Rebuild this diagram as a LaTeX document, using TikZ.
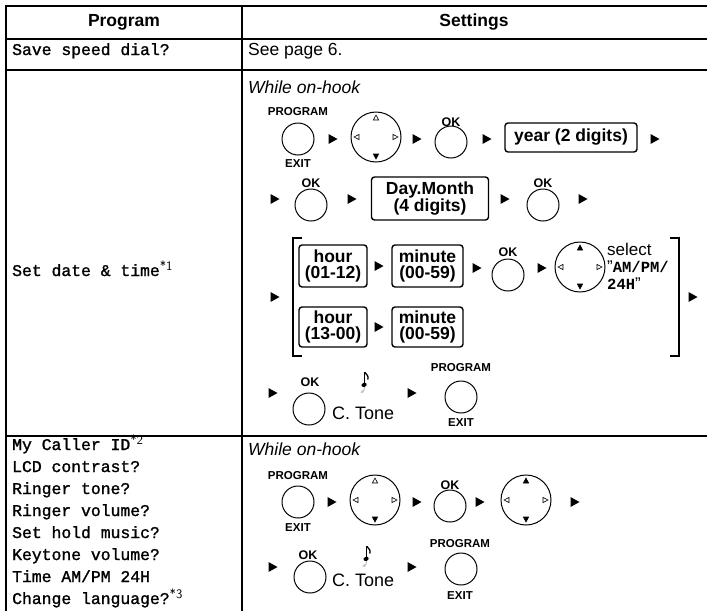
\documentclass[tikz,border=0pt]{standalone}
\usepackage{fontspec}
\setmainfont{Liberation Sans}
\setmonofont{Liberation Mono}
\newfontfamily\monomed{Liberation Mono}[FakeBold=1.3]
\usetikzlibrary{arrows.meta}
\newcommand\fnmark[1]{\raisebox{5.5pt}{\sffamily\mdseries\fontsize{13}{13}\selectfont *#1}}
\newcommand\arr[1]{\fill (#1) ++(-4.5,-5) -- ++(9,5) -- ++(-9,5) -- cycle;}
\newcommand\dialmarks[3]{%
 \draw[#2] ([yshift=-3pt]#1.north) -- ++(-2.6,5) -- ++(5.2,0) -- cycle;
 \draw[#3] ([yshift=3pt]#1.south) -- ++(-2.6,-5) -- ++(5.2,0) -- cycle;
 \draw[mko] ([xshift=3pt]#1.west) -- ++(5,-2.6) -- ++(0,5.2) -- cycle;
 \draw[mko] ([xshift=-3pt]#1.east) -- ++(-5,-2.6) -- ++(0,5.2) -- cycle;}
\newcommand\notesym[2]{%
 \begin{scope}[shift={(#1,#2)}]
  \draw[gray!55,line width=0.9pt,-{Stealth[length=3pt,width=3pt]}] (0.5,7) .. controls (0,11) .. (-3.5,12.5);
  \fill[rotate=20] (-1.6,4.6) ellipse (2.7 and 2);
  \draw[line width=0.9pt] (0.9,4.5) -- (0.9,-8);
  \draw[line width=1.3pt] (0.9,-7.6) .. controls (2.5,-5) and (5,-4.5) .. (3.8,-0.5);
 \end{scope}}
\begin{document}
\begin{tikzpicture}[x=1pt,y=-1pt,
  tbl/.style={line width=2pt},
  btn/.style={circle,draw,line width=1pt,minimum size=32pt,inner sep=0pt,outer sep=0pt},
  dialc/.style={circle,draw,line width=1pt,minimum size=50pt,inner sep=0pt,outer sep=0pt},
  lbl/.style={font=\fontsize{11.5}{12}\selectfont\bfseries,inner sep=0pt},
  oklbl/.style={font=\fontsize{12.5}{13}\selectfont\bfseries,inner sep=0pt},
  kbox/.style={draw,rounded corners=3pt,line width=1.4pt,font=\fontsize{17.5}{16.5}\selectfont\bfseries,align=center,inner sep=0pt},
  hdr/.style={font=\fontsize{17.5}{20}\selectfont\bfseries,inner sep=0pt},
  txt/.style={font=\fontsize{17.5}{20}\selectfont,inner sep=0pt,anchor=base west},
  itx/.style={font=\fontsize{17.5}{20}\selectfont\itshape,inner sep=0pt,anchor=base west},
  mono/.style={font=\fontsize{16.4}{22}\selectfont\monomed,inner sep=0pt,anchor=base west},
  brk/.style={line width=1.2pt},
  mko/.style={draw,line width=0.6pt,fill=white},
  mkf/.style={draw,line width=0.6pt,fill=black}]
\useasboundingbox (0,0) rectangle (707,611);
% table
\draw[tbl] (6,6) -- (707,6);
\draw[tbl] (6,39) -- (707,39);
\draw[tbl] (6,70) -- (707,70);
\draw[tbl] (6,436) -- (707,436);
\draw[tbl] (6,5) -- (6,611);
\draw[tbl] (242,5) -- (242,611);
\node[hdr] (hp) at (124,22.5) {Program};
\node[hdr] (hs) at (474,22.5) {Settings};
% row 1
\node[mono] (p1) at (12,55) {Save speed dial?};
\node[txt] (s1) at (248,55) {See page 6.};
% row 2
\node[mono] (p2) at (12,276) {Set date \& time\fnmark{1}};
\node[itx] (w1) at (248,93) {While on-hook};
% line A
\node[btn] (b1) at (298,139) {};
\node[lbl] (b1p) at (298,112) {PROGRAM};
\node[lbl] (b1e) at (298,164) {EXIT};
\arr{333,139}
\node[dialc] (d1) at (376,137) {};
\dialmarks{d1}{mko}{mkf}
\arr{417,139}
\node[btn] (b2) at (451,142) {};
\node[oklbl] (b2o) at (451,122) {OK};
\arr{487,139}
\node[kbox,minimum width=132pt,minimum height=29pt] (k1) at (571,137.5) {year (2 digits)};
\arr{655,139}
% line B
\arr{275,199}
\node[btn] (b3) at (311,205) {};
\node[oklbl] (b3o) at (311,183) {OK};
\arr{352,199}
\node[kbox,minimum width=117pt,minimum height=43pt] (k2) at (430,198.5) {Day.Month\\(4 digits)};
\arr{505,199}
\node[btn] (b4) at (543,205) {};
\node[oklbl] (b4o) at (543,183) {OK};
\arr{583,199}
% line C
\arr{275,297}
\draw[brk] (302,238) -- (293,238) -- (293,356) -- (302,356);
\draw[brk] (670,238) -- (679,238) -- (679,356) -- (670,356);
\node[kbox,minimum width=68pt,minimum height=42pt] (k3) at (333,266) {hour\\(01-12)};
\arr{379,266}
\node[kbox,minimum width=71pt,minimum height=42pt] (k4) at (427.5,266) {minute\\(00-59)};
\arr{477,268}
\node[btn] (b5) at (508,275) {};
\node[oklbl] (b5o) at (508,252) {OK};
\arr{542,268}
\node[dialc] (d2) at (580,267) {};
\dialmarks{d2}{mkf}{mkf}
\node[font=\fontsize{17}{17}\selectfont,align=left,inner sep=0pt,anchor=west] (sel) at (607,266)
  {select\\"{\ttfamily\bfseries\fontsize{15.5}{17}\selectfont AM/PM/}\\{\ttfamily\bfseries\fontsize{15.5}{17}\selectfont 24H}"};
\node[kbox,minimum width=68pt,minimum height=40pt] (k5) at (333,327) {hour\\(13-00)};
\arr{379,327}
\node[kbox,minimum width=71pt,minimum height=40pt] (k6) at (427.5,327) {minute\\(00-59)};
\arr{693,297}
% line D
\arr{273,393}
\node[btn] (b6) at (309,409) {};
\node[oklbl] (b6o) at (310,382) {OK};
\notesym{364}{380}
\node[font=\fontsize{18}{20}\selectfont,inner sep=0pt,anchor=west] (ct1) at (332,413) {C. Tone};
\arr{412,393}
\node[btn] (b7) at (461,397) {};
\node[lbl] (b7p) at (461,368) {PROGRAM};
\node[lbl] (b7e) at (461,423) {EXIT};
% row 3
\node[mono] (q1) at (12,450) {My Caller ID\fnmark{2}};
\node[mono] (q2) at (12,472) {LCD contrast?};
\node[mono] (q3) at (12,494) {Ringer tone?};
\node[mono] (q4) at (12,516) {Ringer volume?};
\node[mono] (q5) at (12,538) {Set hold music?};
\node[mono] (q6) at (12,560) {Keytone volume?};
\node[mono] (q7) at (12,582) {Time AM/PM 24H};
\node[mono] (q8) at (12,604) {Change language?\fnmark{3}};
\node[itx] (w2) at (248,455) {While on-hook};
% line E
\node[btn] (b8) at (298,502) {};
\node[lbl] (b8p) at (298,476) {PROGRAM};
\node[lbl] (b8e) at (298,528) {EXIT};
\arr{332,502}
\node[dialc] (d3) at (375,500) {};
\dialmarks{d3}{mko}{mkf}
\arr{417,502}
\node[btn] (b9) at (450,506) {};
\node[oklbl] (b9o) at (450,485) {OK};
\arr{480,502}
\node[dialc] (d4) at (526,500) {};
\dialmarks{d4}{mkf}{mkf}
\arr{575,502}
% line F
\arr{273,567}
\node[btn] (b10) at (310,577) {};
\node[oklbl] (b10o) at (308,555) {OK};
\notesym{366}{554}
\node[font=\fontsize{18}{20}\selectfont,inner sep=0pt,anchor=west] (ct2) at (332,580) {C. Tone};
\arr{412,567}
\node[btn] (b11) at (461,569) {};
\node[lbl] (b11p) at (460,544) {PROGRAM};
\node[lbl] (b11e) at (460,596) {EXIT};
\end{tikzpicture}
\end{document}
